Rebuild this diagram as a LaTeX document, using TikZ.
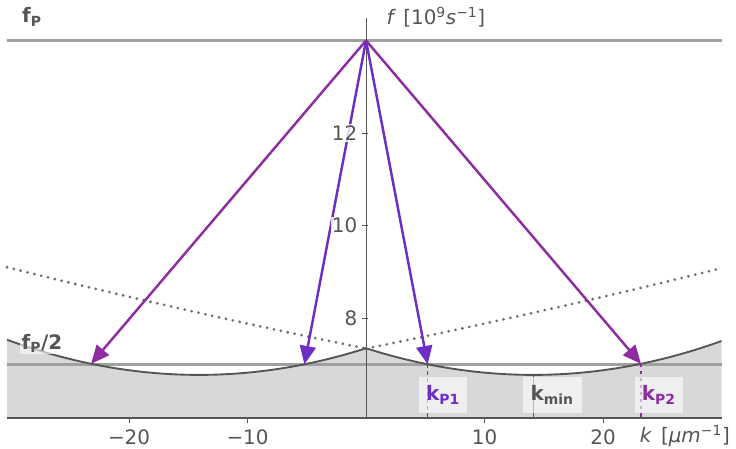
\documentclass[tikz,border=0pt]{standalone}
\usepackage{fontspec}
\setmainfont{DejaVu Sans}
\usetikzlibrary{arrows.meta}
\definecolor{kpone}{RGB}{108,46,198}
\definecolor{kptwo}{RGB}{142,44,162}
\definecolor{axisgray}{RGB}{85,85,85}
\definecolor{levelgray}{RGB}{160,160,160}
\definecolor{bandgray}{RGB}{216,216,216}
\tikzset{
  declare function={disp(\k)=6.77+0.0029*(abs(\k)-14.1)*(abs(\k)-14.1);
    dotb(\k)=7.34+0.052*abs(\k)+0.0002*\k*\k;},
  pump/.style={line width=2.1pt, -{Triangle[length=0.55cm,width=0.48cm]}},
  ticklab/.style={font=\fontsize{17}{20}\selectfont, text=axisgray, fill=white,
    fill opacity=0.8, text opacity=1, inner sep=1pt},
  kbox/.style={font=\fontsize{17}{20}\bfseries\selectfont, fill=white, fill opacity=0.6,
    text opacity=1, minimum width=1.44cm, minimum height=1.08cm, inner sep=1pt},
  flab/.style={font=\fontsize{17}{20}\bfseries\selectfont, text=axisgray, inner sep=1pt}
}
\begin{document}
\begin{tikzpicture}[x=0.3555cm, y=1.3875cm]
		\useasboundingbox (-30.89,5.189) rectangle (31.22,14.876);
		\coordinate (base) at (0,5.84);
		\coordinate (top) at (0,14.49);
		\coordinate (pump) at (0,14);
		\coordinate (kPa) at (5.2,{disp(5.2)});
		\coordinate (kPb) at (23.2,{disp(23.2)});
		\coordinate (mkPa) at (-5.2,{disp(5.2)});
		\coordinate (mkPb) at (-23.2,{disp(23.2)});
		\coordinate (kmin) at (14.1,{disp(14.1)});
		\fill[bandgray] (-30.3,5.84) -- plot[domain=-30.3:0, samples=61] (\x,{disp(\x)}) -- plot[domain=0:30, samples=61] (\x,{disp(\x)}) -- (30,5.84) -- cycle;
		\draw[levelgray, line width=2.4pt] (-30.3,14) -- (30,14);
		\draw[levelgray, line width=2.4pt] (-30.3,7) -- (30,7);
		\draw[axisgray, line width=1.5pt] (-30.3,5.84) -- (30,5.84);
		\draw[axisgray, line width=0.9pt] (base) -- (top);
		\draw[axisgray!85, line width=2.6pt, line cap=round, dash pattern=on 0pt off 6pt] plot[domain=-30.3:0, samples=40] (\x,{dotb(\x)}) plot[domain=0:30, samples=40] (\x,{dotb(\x)});
		\draw[axisgray, line width=1.6pt] plot[domain=-30.3:0, samples=61] (\x,{disp(\x)}) plot[domain=0:30, samples=61] (\x,{disp(\x)});
		\foreach \t in {-20,-10,10,20} \draw[axisgray, line width=0.8pt] (\t,5.84) -- (\t,5.74);
		\foreach \t in {8,10,12} \draw[axisgray, line width=0.8pt] (-0.35,\t) -- (0.2,\t);
		\draw[kpone, line width=1.3pt, dashed] (kPa) -- (kPa |- base);
		\draw[kptwo, line width=1.3pt, dashed] (kPb) -- (kPb |- base);
		\draw[axisgray, line width=0.8pt] (kmin) -- (kmin |- base);
		\draw[pump, kptwo] (pump) -- (mkPb);
		\draw[pump, kpone] (pump) -- (mkPa);
		\draw[pump, kpone] (pump) -- (kPa);
		\draw[pump, kptwo] (pump) -- (kPb);
		\foreach \t/\s in {-20/−20,-10/−10,10/10,20/20} \node[ticklab, fill opacity=0] (xt\t) at (\t,5.43) {\s};
		\foreach \t in {8,10,12} \node[ticklab, anchor=east] (yt\t) at (-0.62,\t) {\t};
		\node[kbox, text=kpone] (lkPa) at (6.5,6.335) {k\textsubscript{P1}};
		\node[kbox, text=axisgray, minimum width=1.77cm] (lkmin) at (15.7,6.335) {k\textsubscript{min}};
		\node[kbox, text=kptwo] (lkPb) at (24.7,6.335) {k\textsubscript{P2}};
		\node[flab] (fP) at (-28.2,14.51) {f\textsubscript{P}};
		\node[flab, fill=white, fill opacity=0.6, text opacity=1] (fPh) at (-27.35,7.45) {f\textsubscript{P}/2};
		\node[ticklab, fill opacity=0] (flabel) at (5.9,14.51) {\itshape f\upshape{} \,[10\textsuperscript{9}\itshape s\upshape\textsuperscript{−1}]};
		\node[ticklab, fill opacity=0] (klabel) at (26.9,5.45) {\itshape k\upshape{} \,[\itshape μm\upshape\textsuperscript{−1}]};
	\end{tikzpicture}
\end{document}
